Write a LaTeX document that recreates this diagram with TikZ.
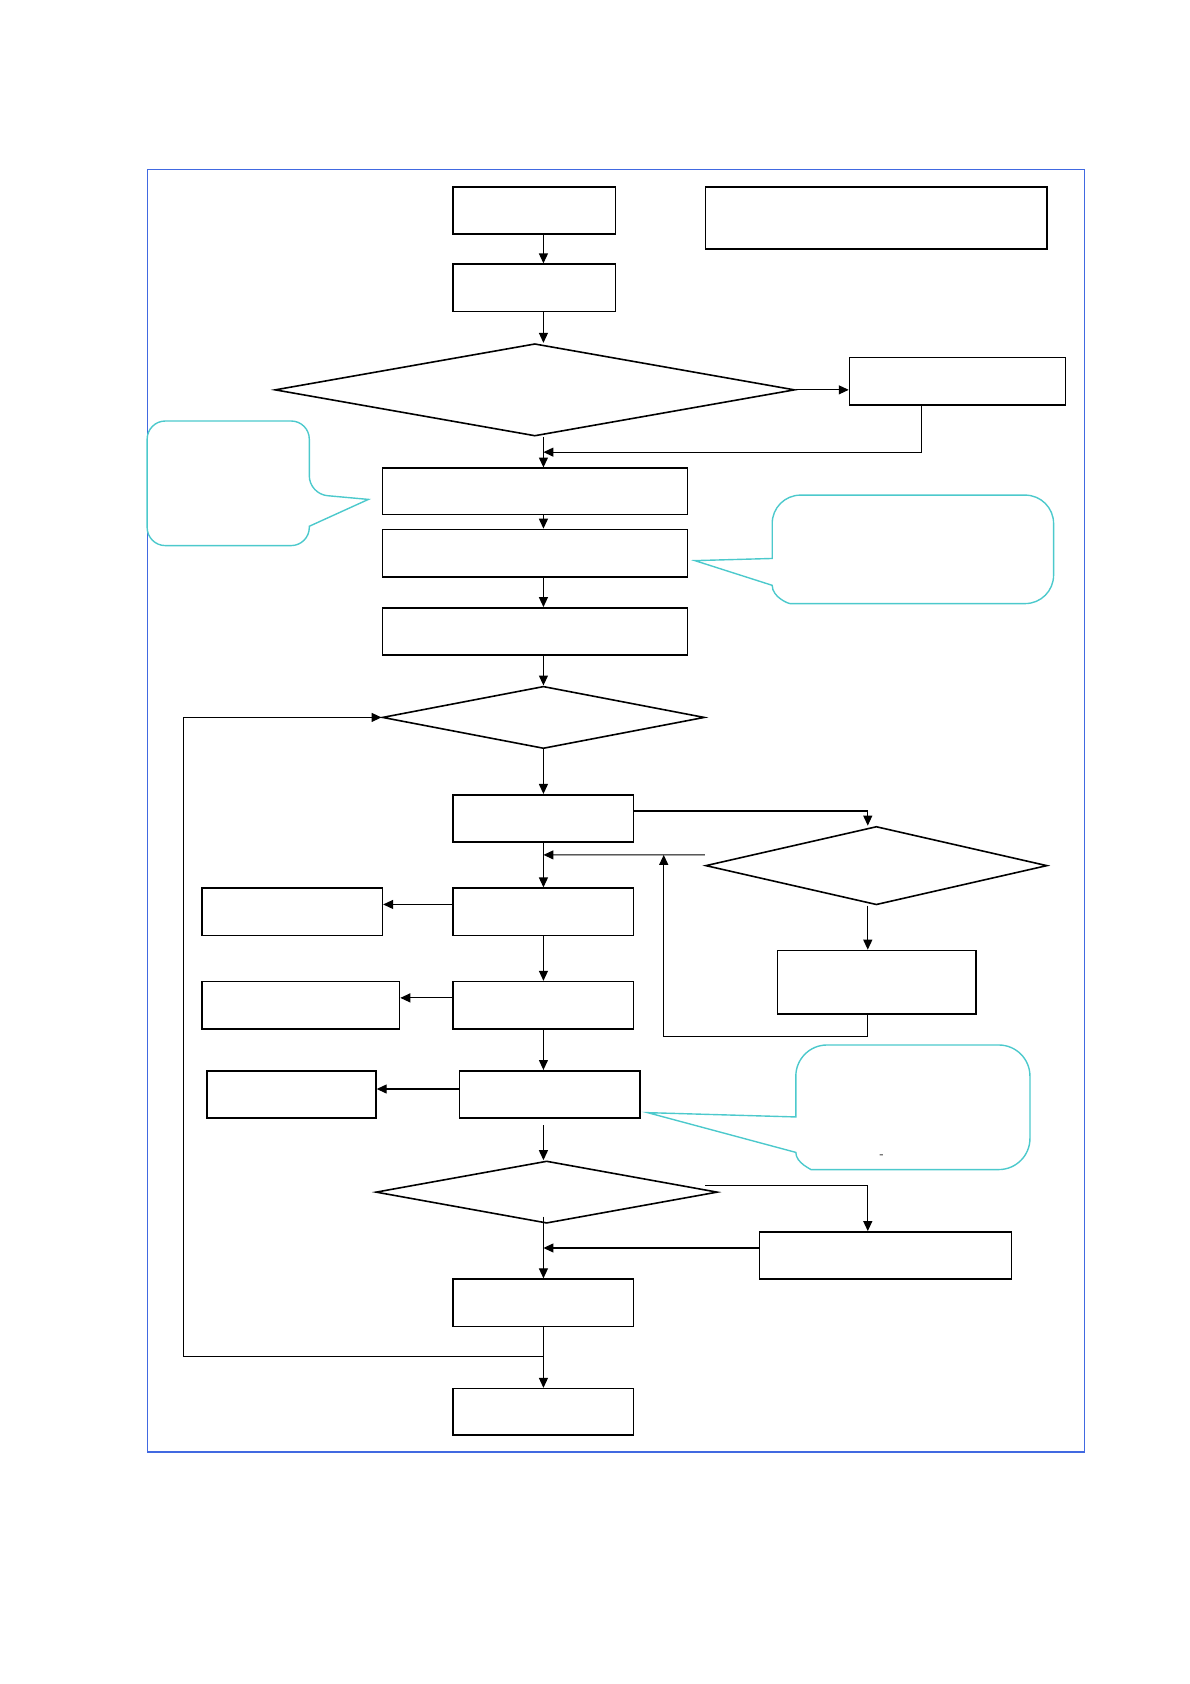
\documentclass[tikz,border=0pt]{standalone}
\usepackage{tikz}
\usepackage{xcolor}
\usetikzlibrary{arrows.meta, calc, shapes.geometric}
\definecolor{FrameLine}{HTML}{4169E1}
\definecolor{CalloutLine}{HTML}{4CC9CC}
\newcommand{\pxu}{0.018953cm}

\begin{document}
\begin{tikzpicture}[
    x=\pxu, y=-\pxu,
    box/.style 2 args={
        rectangle, draw=black, line width=0.8pt, inner sep=0pt,
        minimum width=#1*\pxu, minimum height=#2*\pxu
    },
    decision/.style 2 args={
        diamond, draw=black, line width=0.8pt, inner sep=0pt,
        minimum width=#1*\pxu, minimum height=#2*\pxu
    },
    arr/.style={-{Triangle[length=5pt, width=4.5pt]}, line width=0.6pt},
    link/.style={line width=0.6pt},
    callout/.style={draw=CalloutLine, line width=0.7pt}
]
\useasboundingbox (0,0) rectangle (1108,1568);

% ===================================================================
% FRAME
% ===================================================================
\draw[FrameLine, line width=0.6pt] (137,158) rectangle (1010,1352);

% guide lines of the connectors
\coordinate (axis)   at (506,0);
\coordinate (rightx) at (808,0);
\coordinate (leftx)  at (171,0);
\coordinate (upx)    at (618,0);
\coordinate (join1)  at (506,421);
\coordinate (join2)  at (506,796);
\coordinate (join3)  at (506,1162);
\coordinate (join4)  at (506,1263);

% ===================================================================
% BOXES
% ===================================================================
\node[box={151}{44}] (begin) at (497.5,196) {};
\node[box={318}{58}] (memo)  at (816,203) {};
\node[box={151}{44}] (prep)  at (497.5,268) {};
\node[decision={484}{86}] (test) at (498,363) {};
\node[box={201}{44}] (patch) at (891.5,355) {};

\node[box={284}{43}] (setupA) at (498,457.5) {};
\node[box={284}{44}] (setupB) at (498,515) {};
\node[box={284}{44}] (setupC) at (498,588) {};

\node[decision={300}{58}] (loopq) at (506,668) {};
\node[box={168}{44}] (fetch) at (506,762) {};
\node[decision={318}{73}] (judge) at (816,806) {};
\node[box={185}{59}] (redo)  at (816.5,914.5) {};

\node[box={168}{44}] (stage1) at (506,849) {};
\node[box={168}{44}] (out1)   at (272,849) {};
\node[box={168}{44}] (stage2) at (506,936) {};
\node[box={184}{44}] (out2)   at (280,936) {};
\node[box={168}{44}] (stage3) at (512,1019) {};
\node[box={157}{44}] (out3)   at (271.5,1019) {};

\node[decision={318}{58}] (again) at (509,1110) {};
\node[box={235}{44}] (adjust) at (824.5,1169) {};
\node[box={168}{44}] (update) at (506,1213) {};
\node[box={168}{43}] (finish) at (506,1314.5) {};

% ===================================================================
% CONNECTORS
% ===================================================================
\draw[arr] (begin.south -| axis) -- (prep.north -| axis);
\draw[arr] (prep.south -| axis) -- (test.north -| axis);
\draw[arr] (test.east) -- (test.east -| patch.west);
\draw[arr] ([xshift=-0.635cm]patch.south) |- (join1);
\draw[arr] (test.south -| axis) -- (setupA.north -| axis);
\draw[arr] (setupA.south -| axis) -- (setupB.north -| axis);
\draw[arr] (setupB.south -| axis) -- (setupC.north -| axis);
\draw[arr] (setupC.south -| axis) -- (loopq.north);
\draw[arr] (loopq.south) -- (fetch.north);

% side check
\draw[arr] ([yshift=0.13cm]fetch.east) -| (judge.north -| rightx);
\draw[arr] (judge.south -| rightx) -- (redo.north -| rightx);
\draw[arr] (redo.south -| rightx) -- ++(0,20) -| (join2 -| upx);
\draw[arr] ([yshift=0.19cm]judge.west) -- (join2);

% stages
\draw[arr] (fetch.south) -- (stage1.north);
\draw[arr] ([yshift=0.13cm]stage1.west) -- ([yshift=0.13cm]out1.east);
\draw[arr] (stage1.south) -- (stage2.north);
\draw[arr] ([yshift=0.13cm]stage2.west) -- ([yshift=0.13cm]out2.east);
\draw[arr] (stage2.south) -- (stage3.north -| axis);
\draw[arr] ([yshift=0.095cm]stage3.west) -- ([yshift=0.095cm]out3.east);
\draw[arr] ($(stage3.south -| axis)+(0,6)$) -- (again.north -| axis);

% second check
\draw[arr] ($(again.east)+(-12,-6)$) -| (adjust.north -| rightx);
\draw[arr] (adjust.west |- join3) -- (join3);
\draw[arr] ($(again.south -| axis)+(0,-7)$) -- (update.north);
\draw[arr] (update.south) -- (finish.north);
\draw[arr] (join4) -| (leftx |- loopq.west) -- (loopq.west);

% ===================================================================
% CALLOUTS
% ===================================================================
\draw[callout] (212,508) [rounded corners=0.32cm] -- (137,508) -- (137,392)
    -- (288,392) -- (288,460) [sharp corners] -- (343,465) -- (288,490)
    [rounded corners=0.32cm] -- (288,508) -- cycle;
\draw[callout] (647,522) -- (719,520) [rounded corners=0.5cm] -- (719,461)
    -- (981,461) -- (981,562) -- (762,562) [sharp corners]
    .. controls (734,562) and (719,556) .. (719,545) -- cycle;
\draw[callout] (603,1036) -- (741,1040) [rounded corners=0.55cm] -- (741,973)
    -- (959,973) -- (959,1089) -- (784,1089) [sharp corners]
    .. controls (756,1089) and (741,1083) .. (741,1073) -- cycle;
\node[font=\tiny, inner sep=0pt] (dash) at (821,1077) {-};

\end{tikzpicture}
\end{document}
